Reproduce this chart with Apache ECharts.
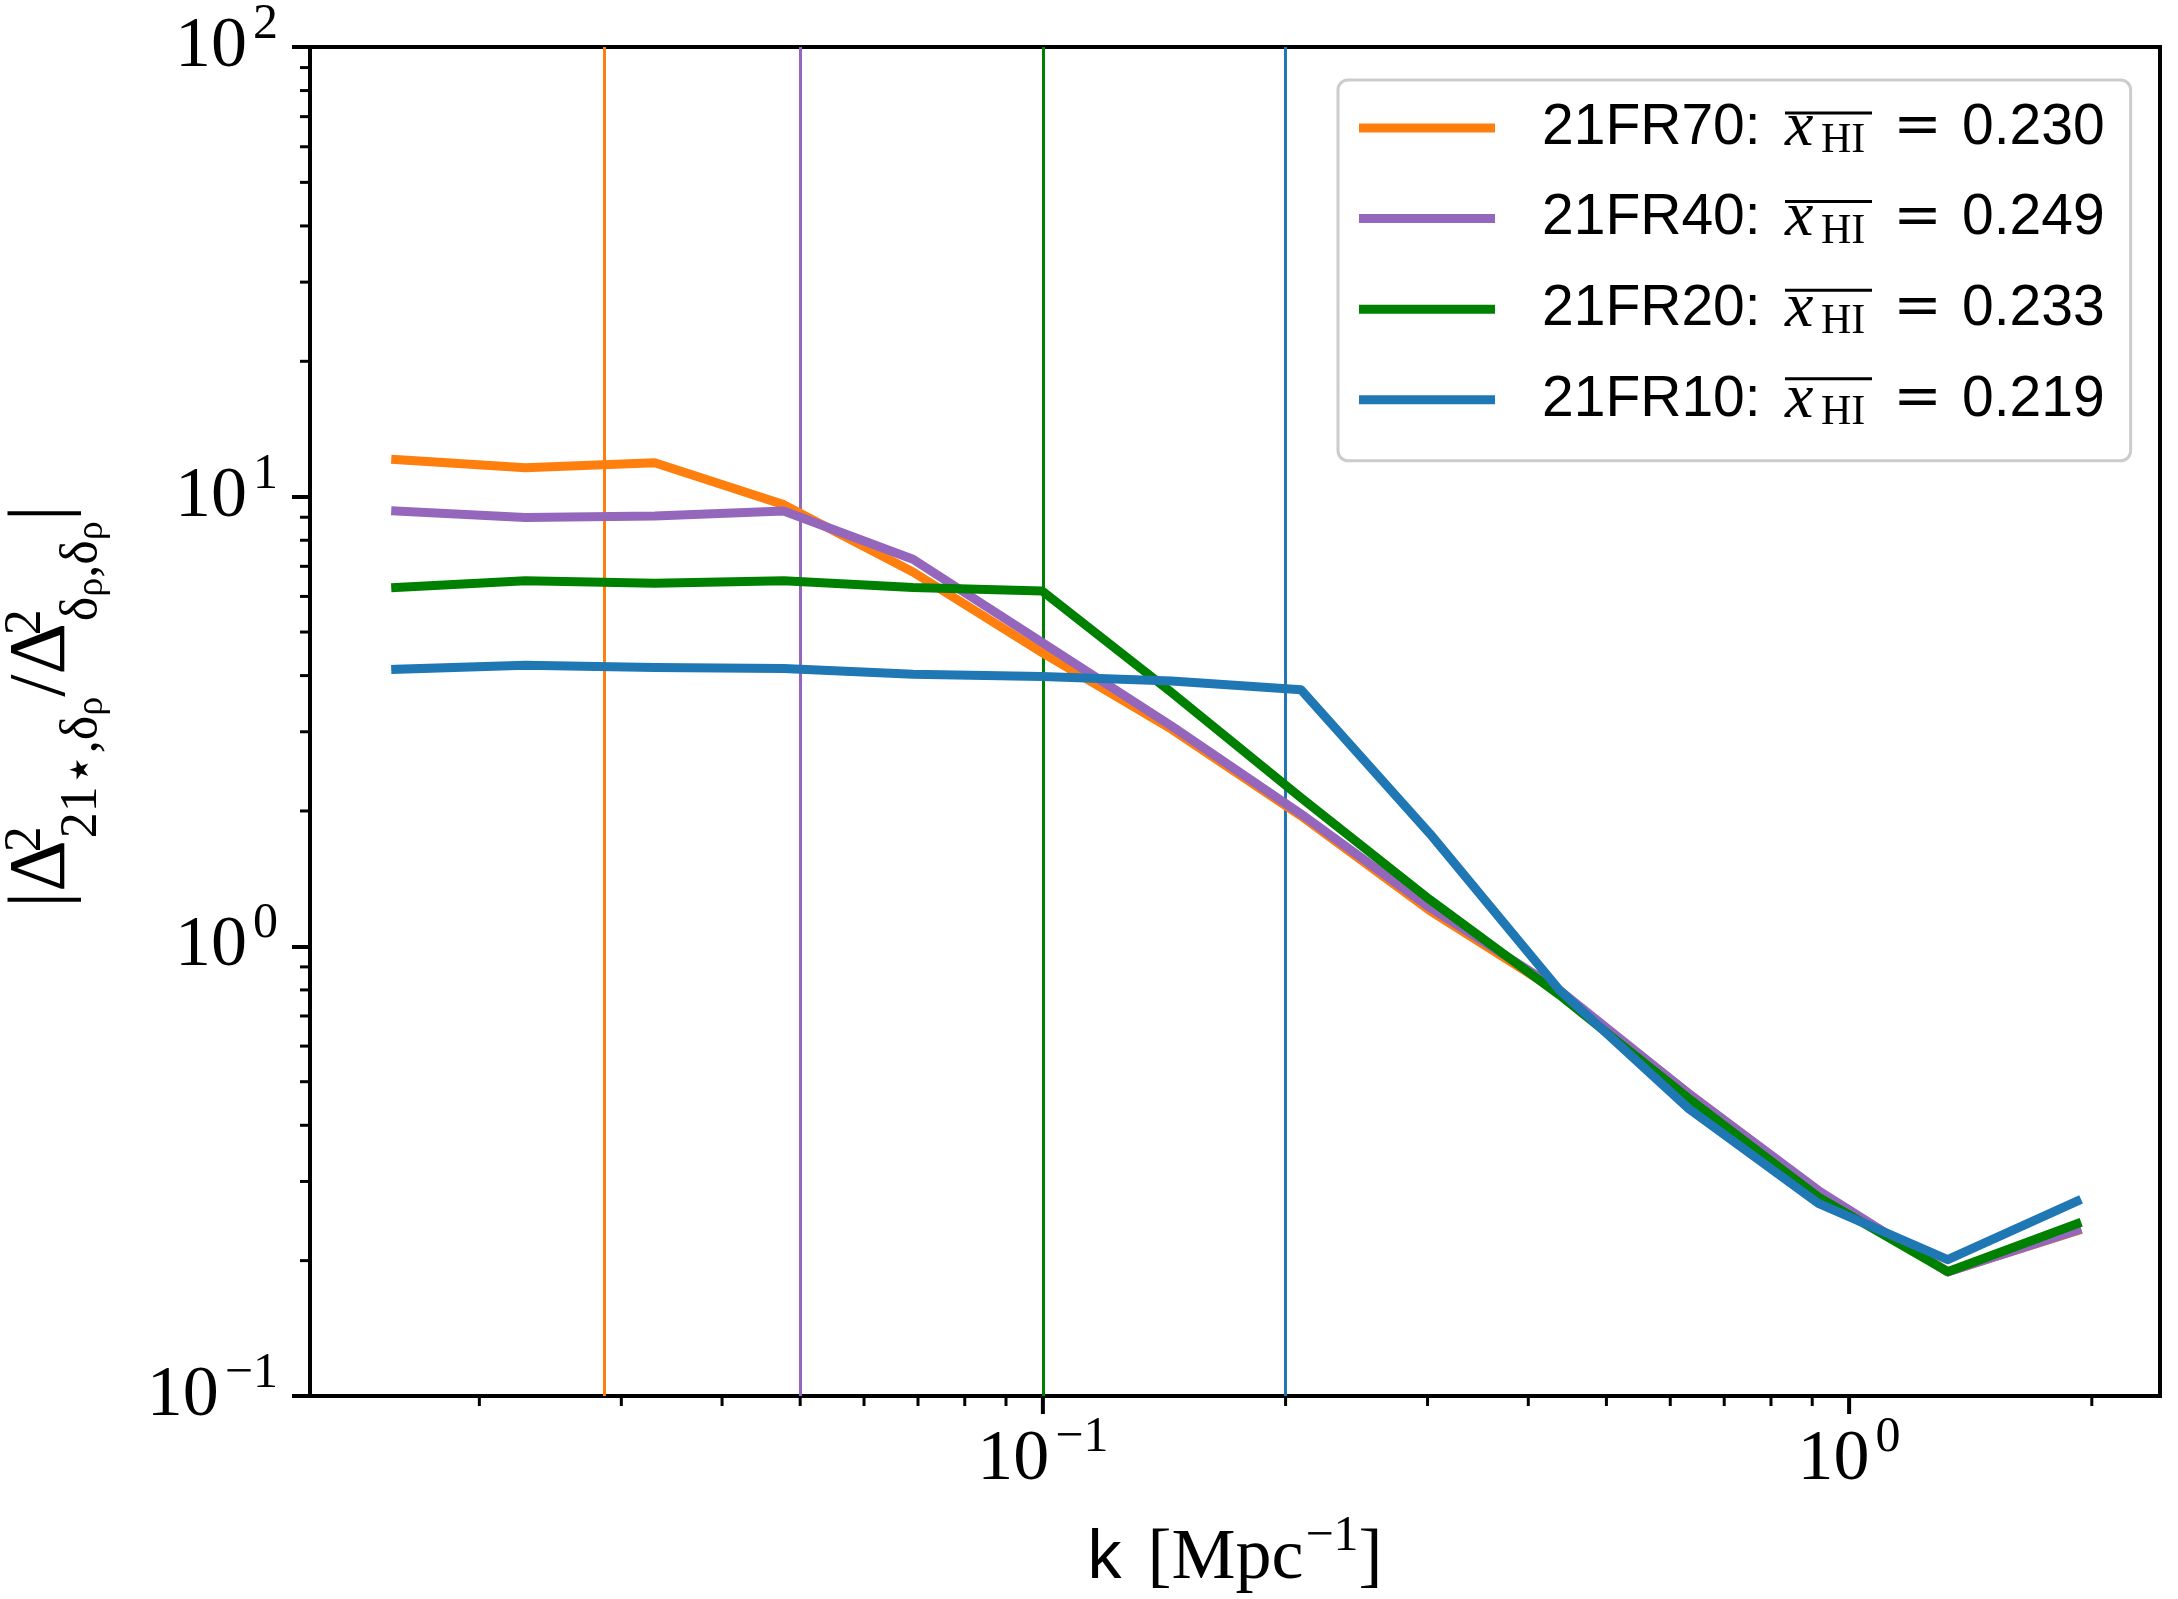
<!DOCTYPE html>
<html>
<head>
<meta charset="utf-8">
<script src="https://cdn.jsdelivr.net/npm/echarts@6/dist/echarts.min.js"></script>
<style>
  html, body { margin: 0; padding: 0; background: #ffffff; }
  #chart { width: 2178px; height: 1599px; }
</style>
</head>
<body>
<div id="chart"></div>
<script>
// Wavenumber bins [Mpc^-1]
const kValues = [0.01575, 0.0228, 0.0330, 0.0477, 0.0690, 0.0998, 0.1444, 0.209, 0.302, 0.437, 0.633, 0.916, 1.325, 1.917];

// |Delta^2_{21*,rho} / Delta^2_{rho,rho}| for each run
const ratio21FR70 = [12.1, 11.6, 11.9, 9.6, 6.8, 4.5, 3.04, 1.95, 1.2, 0.79, 0.47, 0.285, 0.189, 0.233];
const ratio21FR40 = [9.29, 8.99, 9.06, 9.29, 7.26, 4.74, 3.09, 1.97, 1.22, 0.80, 0.47, 0.2865, 0.1887, 0.2335];
const ratio21FR20 = [6.28, 6.50, 6.42, 6.50, 6.28, 6.17, 3.67, 2.14, 1.27, 0.78, 0.458, 0.277, 0.189, 0.2416];
const ratio21FR10 = [4.13, 4.22, 4.17, 4.15, 4.03, 3.98, 3.89, 3.72, 1.78, 0.80, 0.435, 0.268, 0.201, 0.271];

const runNames = ['21FR70', '21FR40', '21FR20', '21FR10'];
const runRatios = [ratio21FR70, ratio21FR40, ratio21FR20, ratio21FR10];
const meanXHI = ['0.230', '0.249', '0.233', '0.219'];
// Vertical markers at k = 2/R for each run
const cutK = [2 / 70, 2 / 40, 2 / 20, 2 / 10];

// Axis ranges and tick positions
const X_MIN = 0.01233, X_MAX = 2.43;
const Y_MIN = 0.1, Y_MAX = 100;
const xMajorTicks = [0.1, 1];
const xMinorTicks = [0.02, 0.03, 0.04, 0.05, 0.06, 0.07, 0.08, 0.09,
                     0.2, 0.3, 0.4, 0.5, 0.6, 0.7, 0.8, 0.9, 2];
const yMinorTicks = [0.2, 0.3, 0.4, 0.5, 0.6, 0.7, 0.8, 0.9,
                     2, 3, 4, 5, 6, 7, 8, 9,
                     20, 30, 40, 50, 60, 70, 80, 90];

const runColors = ['#ff7f0e', '#9467bd', '#008000', '#1f77b4'];
const SERIF = '"Liberation Serif", "DejaVu Serif", serif';
const SANS = '"Liberation Sans", Arial, sans-serif';

// Layout
const GRID = { left: 310, top: 47, width: 1850, height: 1349 };
const LEG = { left: 1338, top: 80, padTop: 14, padLeft: 21, rowH: 66, gap: 22.6, iconW: 136 };

const tickRich = {
  b: { fontFamily: SERIF, fontSize: 72, lineHeight: 80, color: '#000' },
  s: { fontFamily: SERIF, fontSize: 50, lineHeight: 80, color: '#000', padding: [0, 0, 44, 6] }
};

function powerLabel(v) {
  const e = Math.log10(v);
  const r = Math.round(e);
  if (Math.abs(e - r) > 1e-6) return '';
  const exp = r < 0 ? '\u2212' + (-r) : String(r);
  return '{b|10}{s|' + exp + '}';
}

// Short tick marks placed through the axis scales
function tickSeries(values, isX, len, width) {
  return {
    type: 'custom',
    silent: true,
    clip: false,
    z: 20,
    animation: false,
    data: values.map(v => isX ? [v, Y_MIN] : [X_MIN, v]),
    renderItem: function (params, api) {
      const p = api.coord([api.value(0), api.value(1)]);
      const shape = isX
        ? { x1: p[0], y1: p[1], x2: p[0], y2: p[1] + len }
        : { x1: p[0] - len, y1: p[1], x2: p[0], y2: p[1] };
      return { type: 'line', shape: shape, style: { stroke: '#000', lineWidth: width } };
    }
  };
}

const lineSeries = runNames.map((name, i) => ({
  name: name,
  type: 'line',
  data: kValues.map((k, j) => [k, runRatios[i][j]]),
  symbol: 'none',
  z: 10,
  color: runColors[i],
  lineStyle: { width: 9, color: runColors[i], cap: 'square', join: 'round' },
  markLine: {
    silent: true,
    precision: 10,
    symbol: ['none', 'none'],
    label: { show: false },
    lineStyle: { color: runColors[i], width: 3, type: 'solid' },
    data: [{ xAxis: cutK[i] }],
    animation: false
  }
}));

// Overbars over x_HI in the legend entries
const overbars = runNames.map((n, i) => {
  const x0 = LEG.left + LEG.padLeft + LEG.iconW + 5 + 42 + 243;
  const y = LEG.top + LEG.padTop + LEG.rowH / 2 + i * (LEG.rowH + LEG.gap) - 14;
  return {
    type: 'line', z: 100,
    shape: { x1: x0, y1: y, x2: x0 + 87, y2: y },
    style: { stroke: '#000', lineWidth: 3 }
  };
});

const chart = echarts.init(document.getElementById('chart'), null, { renderer: 'canvas' });
chart.setOption({
  animation: false,
  backgroundColor: '#ffffff',
  grid: Object.assign({ show: true, borderColor: '#000', borderWidth: 4, backgroundColor: 'transparent', containLabel: false, outerBoundsMode: 'none' }, GRID),
  xAxis: {
    type: 'log',
    min: X_MIN,
    max: X_MAX,
    logBase: 10,
    name: '{k|k}{sp| }{rm|[Mpc}{sup|\u22121}{rm|]}',
    nameLocation: 'middle',
    nameGap: 112,
    nameTextStyle: {
      rich: {
        k: { fontFamily: SANS, fontSize: 68, lineHeight: 100, color: '#000' },
        sp: { fontFamily: SERIF, fontSize: 72, lineHeight: 100, width: 26 },
        rm: { fontFamily: SERIF, fontSize: 72, lineHeight: 100, color: '#000' },
        sup: { fontFamily: SERIF, fontSize: 50, lineHeight: 100, color: '#000', padding: [0, 0, 45, 2] }
      }
    },
    axisLine: { show: true, lineStyle: { color: '#000', width: 4 } },
    axisTick: { show: false },
    splitLine: { show: false },
    axisLabel: {
      show: true,
      margin: 24,
      showMinLabel: false,
      showMaxLabel: false,
      formatter: powerLabel,
      rich: tickRich
    }
  },
  yAxis: {
    type: 'log',
    min: Y_MIN,
    max: Y_MAX,
    logBase: 10,
    name: '{bar||}{D|\u0394}{sup|2}{sub|21\u22c6,\u03b4}{ssub|\u03c1}{sl|/}{D|\u0394}{sup|2}{sub|\u03b4}{ssub|\u03c1}{sub|,\u03b4}{ssub|\u03c1}{bar||}',
    nameLocation: 'middle',
    nameRotate: 90,
    nameGap: 209,
    nameMoveOverlap: false,
    nameTextStyle: {
      padding: [0, 0, 0, 30],
      rich: {
        bar: { fontFamily: SERIF, fontSize: 80, lineHeight: 116, color: '#000' },
        D: { fontFamily: SERIF, fontSize: 80, lineHeight: 116, color: '#000' },
        sl: { fontFamily: SERIF, fontSize: 80, lineHeight: 116, color: '#000' },
        sup: { fontFamily: SERIF, fontSize: 52, lineHeight: 116, color: '#000', width: 2, padding: [0, 0, 33, 0] },
        sub: { fontFamily: SERIF, fontSize: 52, lineHeight: 116, color: '#000', padding: [79, 0, 0, 0] },
        ssub: { fontFamily: SERIF, fontSize: 38, lineHeight: 116, color: '#000', padding: [98, 0, 0, 0] }
      }
    },
    axisLine: { show: true, lineStyle: { color: '#000', width: 4 } },
    axisTick: { show: true, inside: false, length: 18, lineStyle: { color: '#000', width: 4 } },
    splitLine: { show: false },
    axisLabel: {
      show: true,
      margin: 32,
      formatter: powerLabel,
      rich: tickRich
    }
  },
  legend: {
    data: runNames,
    orient: 'vertical',
    left: LEG.left,
    top: LEG.top,
    padding: [LEG.padTop, 26, 27, LEG.padLeft],
    itemGap: LEG.gap,
    itemWidth: LEG.iconW,
    itemHeight: 9,
    icon: 'rect',
    selectedMode: false,
    backgroundColor: 'rgba(255,255,255,0.8)',
    borderColor: '#cccccc',
    borderWidth: 3,
    borderRadius: 10,
    z: 50,
    formatter: function (name) {
      const i = runNames.indexOf(name);
      return '{sp| }{lab|' + name + ':}{xi|x}{hi|HI}{eq|=}{val|' + meanXHI[i] + '}';
    },
    textStyle: {
      rich: {
        sp: { fontFamily: SANS, fontSize: 57, width: 42, lineHeight: LEG.rowH },
        lab: { fontFamily: SANS, fontSize: 57, width: 243, lineHeight: LEG.rowH, color: '#000' },
        xi: { fontFamily: SERIF, fontStyle: 'italic', fontSize: 64, width: 36, lineHeight: LEG.rowH, color: '#000' },
        hi: { fontFamily: SERIF, fontSize: 42, width: 52, lineHeight: LEG.rowH, color: '#000', padding: [26, 0, 0, 0] },
        eq: { fontFamily: '"DejaVu Serif", serif', fontSize: 58, width: 89, align: 'center', lineHeight: LEG.rowH, color: '#000' },
        val: { fontFamily: SANS, fontSize: 57, lineHeight: LEG.rowH, color: '#000' }
      }
    }
  },
  graphic: overbars,
  series: lineSeries.concat([
    tickSeries(xMajorTicks, true, 18, 4),
    tickSeries(xMinorTicks, true, 10, 3),
    tickSeries(yMinorTicks, false, 10, 3)
  ])
});
</script>
</body>
</html>
